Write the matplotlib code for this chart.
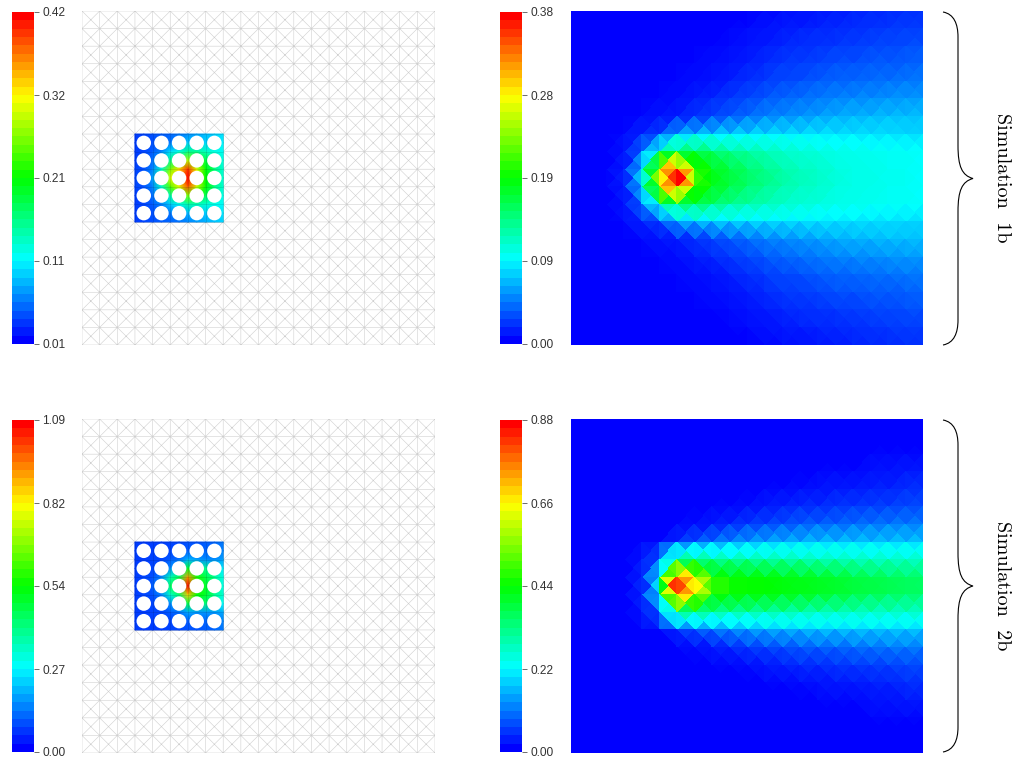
import matplotlib
matplotlib.use('Agg')
import matplotlib.pyplot as plt
import matplotlib.tri as mtri
import numpy as np
from matplotlib.cm import ScalarMappable
from matplotlib.colors import LinearSegmentedColormap, Normalize
from matplotlib.patches import Circle, PathPatch
from matplotlib.path import Path

W, H = 1016, 758
NX, NY = 20, 19  # mesh cells

# colour bar labels, (left panel, right panel) per simulation
labels_1b_box = ['0.01', '0.11', '0.21', '0.32', '0.42']
labels_1b_full = ['0.00', '0.09', '0.19', '0.28', '0.38']
labels_2b_box = ['0.00', '0.27', '0.54', '0.82', '1.09']
labels_2b_full = ['0.00', '0.22', '0.44', '0.66', '0.88']

# all fields below: percent of the colour bar range
# top half of the domain only, the plume is mirrored about the mid line
corners_1b = [
    [0,0,0,0,0,0,0,0,0,0,0,1,1,2,2,3,3,4,4,5,5],
    [0,0,0,0,0,0,0,0,0,1,1,2,3,3,4,4,5,5,6,6,6],
    [0,0,0,0,0,0,0,0,1,1,2,3,4,5,5,6,6,7,7,8,8],
    [0,0,0,0,0,0,0,1,1,2,3,4,6,6,7,8,8,9,9,9,10],
    [0,0,0,0,0,0,1,1,2,3,5,6,7,8,9,10,10,11,11,12,12],
    [0,0,0,0,0,1,1,3,4,6,7,9,10,11,12,13,14,14,15,15,15],
    [0,0,0,0,1,2,3,5,7,9,11,13,14,15,16,17,18,18,19,19,19],
    [0,0,0,1,4,7,20,22,23,23,23,23,23,23,23,23,22,22,22,21,21],
    [0,0,0,2,12,30,40,42,38,35,33,32,30,29,28,27,27,26,26,26,25],
    [0,0,0,3,24,72,100,55,47,43,39,36,33,31,30,28,27,27,26,26,25],
]
centers_1b = [
    [0,0,0,0,0,0,0,0,0,0,1,1,2,2,3,3,4,4,5,5],
    [0,0,0,0,0,0,0,0,0,1,2,2,3,4,4,5,5,6,6,7],
    [0,0,0,0,0,0,0,1,1,2,3,4,5,5,6,7,7,8,8,9],
    [0,0,0,0,0,0,1,1,2,3,4,6,6,7,8,9,9,10,10,11],
    [0,0,0,0,0,1,1,2,3,5,6,8,9,10,11,11,12,12,13,13],
    [0,0,0,0,1,1,3,4,6,7,9,11,12,13,14,15,15,16,16,17],
    [0,0,0,1,2,4,6,8,11,13,15,16,17,18,19,19,20,20,20,20],
    [0,0,1,3,12,25,27,28,28,28,28,28,27,27,26,26,26,25,25,25],
    [0,0,1,4,28,70,55,50,44,40,36,33,31,30,29,28,27,27,26,26],
    [0,0,2,7,42,85,100,55,48,44,40,37,34,32,30,29,28,27,27,26],
]
corners_2b = [
    [0,0,0,0,0,0,0,0,0,0,0,0,0,0,0,0,0,0,0,0,0],
    [0,0,0,0,0,0,0,0,0,0,0,0,0,0,0,0,0,0,0,0,0],
    [0,0,0,0,0,0,0,0,0,0,0,0,0,0,0,0,0,1,1,1,1],
    [0,0,0,0,0,0,0,0,0,0,0,0,0,0,1,1,1,2,2,3,3],
    [0,0,0,0,0,0,0,0,0,0,0,1,1,2,2,3,3,4,4,5,5],
    [0,0,0,0,0,0,0,0,1,1,2,3,4,5,5,6,6,7,7,8,8],
    [0,0,0,0,0,0,1,2,3,5,7,8,9,10,11,11,12,12,13,13,13],
    [0,0,0,0,0,1,6,11,14,16,18,19,20,20,21,21,21,21,21,21,21],
    [0,0,0,0,3,7,35,35,33,33,33,33,32,32,31,31,31,30,30,30,30],
    [0,0,0,0,5,30,100,75,50,50,50,50,49,48,47,46,44,43,42,41,40],
]
centers_2b = [
    [0,0,0,0,0,0,0,0,0,0,0,0,0,0,0,0,0,0,0,0],
    [0,0,0,0,0,0,0,0,0,0,0,0,0,0,0,0,0,0,0,0],
    [0,0,0,0,0,0,0,0,0,0,0,0,0,0,0,0,0,1,1,1],
    [0,0,0,0,0,0,0,0,0,0,0,0,0,0,1,1,1,2,2,3],
    [0,0,0,0,0,0,0,0,0,0,0,1,1,2,2,3,3,4,4,5],
    [0,0,0,0,0,0,0,0,1,1,2,3,4,5,5,6,7,7,8,8],
    [0,0,0,0,0,0,1,2,4,6,8,9,10,11,12,12,13,13,14,14],
    [0,0,0,0,5,25,28,27,26,26,26,27,27,27,27,27,27,27,27,27],
    [0,0,0,0,5,40,55,50,46,44,42,42,41,40,39,38,37,36,35,35],
    [0,0,0,0,3,85,80,75,60,52,50,49,48,47,46,45,44,43,42,41],
]

# perforated block, half cell spacing
box_1b = [
    [6,7,8,9,10,12,14,16,18,20,22],
    [6,7,8,10,12,15,20,21,21,23,24],
    [6,7,9,13,22,28,36,35,31,28,26],
    [6,7,11,20,36,55,68,55,44,35,28],
    [7,8,13,30,62,78,95,72,50,38,29],
    [7,9,16,38,72,80,100,78,50,38,29],
    [7,8,13,30,58,72,92,70,50,38,29],
    [6,7,11,20,33,50,62,52,42,34,27],
    [6,7,9,13,20,26,33,32,29,27,25],
    [6,7,8,10,12,15,18,19,20,21,23],
    [6,7,8,9,10,11,13,15,17,19,21],
]
box_2b = [
    [6,6,6,6,7,7,8,8,9,10,12],
    [6,6,6,7,7,8,9,10,10,11,13],
    [6,6,7,7,9,11,18,16,14,14,16],
    [6,7,7,9,14,24,47,37,36,29,23],
    [6,7,8,13,32,42,85,52,43,36,27],
    [6,7,9,18,40,57,100,57,46,39,27],
    [6,7,8,13,30,40,80,50,46,37,29],
    [6,7,7,9,14,22,44,37,39,31,25],
    [6,6,7,7,9,11,17,15,15,15,17],
    [6,6,6,7,7,8,9,10,10,11,13],
    [6,6,6,6,7,7,8,8,9,10,12],
]

stops = ['#0000ff', '#00ffff', '#00ff00', '#ffff00', '#ff0000']
cmap = LinearSegmentedColormap.from_list('rb', stops, N=256)
cmap_bar = LinearSegmentedColormap.from_list('rb_bar', stops, N=40)


def px_axes(x0, y0, x1, y1):
    return fig.add_axes([x0 / W, 1 - y1 / H, (x1 - x0) / W, (y1 - y0) / H])


# criss-cross mesh, corner nodes first then cell centres
def make_mesh():
    xc, yc = np.meshgrid(np.arange(NX + 1), np.arange(NY + 1))
    xm, ym = np.meshgrid(np.arange(NX) + 0.5, np.arange(NY) + 0.5)
    x = np.concatenate([xc.ravel(), xm.ravel()])
    y = np.concatenate([yc.ravel(), ym.ravel()])
    tris = []
    for j in range(NY):
        for i in range(NX):
            a = j * (NX + 1) + i
            b = a + 1
            c = a + NX + 1
            d = c + 1
            m = (NX + 1) * (NY + 1) + j * NX + i
            tris += [[a, b, m], [b, d, m], [d, c, m], [c, a, m]]
    return mtri.Triangulation(x, y, tris)


def colorbar(x0, y0, x1, y1, labels):
    cax = px_axes(x0, y0, x1, y1)
    cb = fig.colorbar(ScalarMappable(Normalize(0, 1), cmap_bar), cax=cax)
    cb.outline.set_visible(False)
    cb.set_ticks(np.linspace(0, 1, 5), labels=labels)
    cax.tick_params(length=3.6, width=0.5, pad=2.5, labelsize=8.6, colors='#333333')
    for t in cax.get_yticklabels():
        t.set_family('Liberation Sans')


def box_panel(ax, mesh, box):
    ax.set_xlim(0, NX)
    ax.set_ylim(NY, 0)
    ax.axis('off')
    ax.triplot(mesh, color='#cfcfcf', lw=0.4, zorder=0)
    bx = np.linspace(3, 8, 11)
    by = np.linspace(7, 12, 11)
    ax.pcolormesh(bx, by, np.array(box), cmap=cmap, vmin=0, vmax=100, shading='gouraud', zorder=1)
    ax.hlines(np.arange(7, 13), 3, 8, color='black', alpha=0.15, lw=0.5, zorder=1.5)
    ax.vlines(np.arange(3, 9), 7, 12, color='black', alpha=0.15, lw=0.5, zorder=1.5)
    for i in range(5):
        for j in range(5):
            ax.add_patch(Circle((3.5 + i, 7.5 + j), 0.41, fc='white', ec='none', zorder=2))


def full_panel(ax, mesh, corners, centers):
    ax.set_xlim(0, NX)
    ax.set_ylim(NY, 0)
    ax.axis('off')
    corners = np.array(corners)
    centers = np.array(centers)
    c_all = np.vstack([corners, corners[::-1]])
    m_all = np.vstack([centers, centers[-2::-1]])
    vals = np.concatenate([c_all.ravel(), m_all.ravel()])
    ax.tripcolor(mesh, vals, cmap=cmap, vmin=0, vmax=100, shading='flat', antialiased=False)


def brace(over, x0, tip_x, y0, y1):
    xm = (x0 + tip_x) / 2
    ym = (y0 + y1) / 2
    verts = [(x0, y0), (xm - 4, y0 + 2), (xm, y0 + 12), (xm, y0 + 25),
             (xm, ym - 33), (xm, ym - 12), (xm + 4, ym - 3), (tip_x, ym),
             (xm + 4, ym + 3), (xm, ym + 12), (xm, ym + 33),
             (xm, y1 - 25), (xm, y1 - 12), (xm - 4, y1 - 2), (x0, y1)]
    codes = [Path.MOVETO, Path.CURVE4, Path.CURVE4, Path.CURVE4,
             Path.LINETO, Path.CURVE4, Path.CURVE4, Path.CURVE4,
             Path.CURVE4, Path.CURVE4, Path.CURVE4,
             Path.LINETO, Path.CURVE4, Path.CURVE4, Path.CURVE4]
    over.add_patch(PathPatch(Path(verts, codes), fc='none', ec='black', lw=0.8))


fig = plt.figure(figsize=(W / 100, H / 100), dpi=100)
mesh = make_mesh()

colorbar(12, 12, 34, 344, labels_1b_box)
box_panel(px_axes(82, 11, 435, 345), mesh, box_1b)
colorbar(500, 12, 522, 344, labels_1b_full)
full_panel(px_axes(571, 11, 923, 345), mesh, corners_1b, centers_1b)

colorbar(12, 420, 34, 752, labels_2b_box)
box_panel(px_axes(82, 419, 435, 753), mesh, box_2b)
colorbar(500, 420, 522, 752, labels_2b_full)
full_panel(px_axes(571, 419, 923, 753), mesh, corners_2b, centers_2b)

over = fig.add_axes([0, 0, 1, 1], facecolor='none')
over.set_xlim(0, W)
over.set_ylim(H, 0)
over.axis('off')
brace(over, 943, 973, 12, 345)
brace(over, 943, 973, 420, 752)
over.text(1002, 178, 'Simulation  1b', rotation=-90, ha='center', va='center', family='cmr10', fontsize=14.5)
over.text(1002, 586, 'Simulation  2b', rotation=-90, ha='center', va='center', family='cmr10', fontsize=14.5)

fig.savefig('out.png', dpi=100)
